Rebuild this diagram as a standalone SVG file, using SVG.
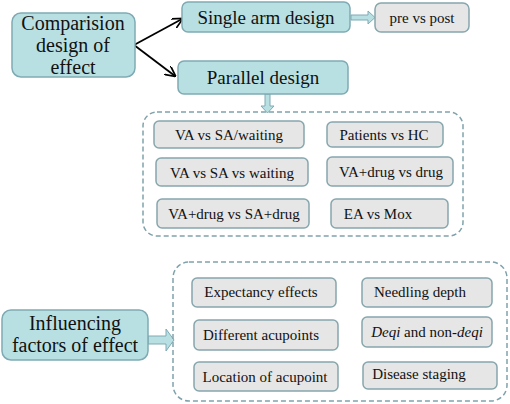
<svg xmlns="http://www.w3.org/2000/svg" width="510" height="404" viewBox="0 0 510 404">
<defs>
<style>
.teal{fill:#b8e0e3;stroke:#7eaab3;stroke-width:1.5}
.gray{fill:#e6e6e6;stroke:#86a7ad;stroke-width:1.5}
.dash{fill:none;stroke:#7fa2aa;stroke-width:1.5;stroke-dasharray:5 3}
.barrow{fill:#b8e0e3;stroke:#7eaab3;stroke-width:1}
.line{stroke:#000;stroke-width:1.8;fill:none}
</style>
<marker id="ah" viewBox="0 0 10 10" refX="9" refY="5" markerWidth="6" markerHeight="6" orient="auto" markerUnits="strokeWidth">
<path d="M0,0 L10,5 L0,10" fill="none" stroke="#000" stroke-width="1.6"/>
</marker>
</defs>
<rect width="510" height="404" fill="#fff"/>
<g id="connectors">
<line class="line" x1="134" y1="45" x2="182" y2="19" marker-end="url(#ah)"/>
<line class="line" x1="134" y1="45" x2="175" y2="76" marker-end="url(#ah)"/>
<path class="barrow" d="M351,15 L368,15 L368,11 L375,17.5 L368,24 L368,20 L351,20 Z"/>
<path class="barrow" d="M265,94 L265,106 L261,106 L267.5,113 L274,106 L270,106 L270,94 Z"/>
<path class="barrow" d="M148,336 L166,336 L166,329 L174,340 L166,351 L166,344 L148,344 Z"/>
</g>
<g id="comparision">
<rect class="teal" x="12" y="13" width="123" height="64" rx="9"/>
<text x="73" y="30" style="font-family:'Liberation Serif',serif;font-size:20px;text-anchor:middle;fill:#111">Comparision</text>
<text x="73" y="52" style="font-family:'Liberation Serif',serif;font-size:20px;text-anchor:middle;fill:#111">design of</text>
<text x="73" y="74" style="font-family:'Liberation Serif',serif;font-size:20px;text-anchor:middle;fill:#111">effect</text>
</g>
<g id="single-arm">
<rect class="teal" x="182" y="2" width="168" height="30" rx="6"/>
<text x="266" y="24" style="font-family:'Liberation Serif',serif;font-size:19px;text-anchor:middle;fill:#111">Single arm design</text>
</g>
<g id="pre-post">
<rect class="gray" x="375" y="3" width="94" height="29" rx="6"/>
<text x="422" y="23" style="font-family:'Liberation Serif',serif;font-size:15px;text-anchor:middle;fill:#111">pre vs post</text>
</g>
<g id="parallel">
<rect class="teal" x="178" y="61" width="170" height="33" rx="6"/>
<text x="263" y="84" style="font-family:'Liberation Serif',serif;font-size:19px;text-anchor:middle;fill:#111">Parallel design</text>
</g>
<g id="parallel-group">
<rect class="dash" x="143" y="112" width="320" height="124" rx="14"/>
</g>
<g id="va-sa-waiting1">
<rect class="gray" x="154" y="121" width="150" height="27" rx="5"/>
<text x="229" y="140" style="font-family:'Liberation Serif',serif;font-size:15px;text-anchor:middle;fill:#111">VA vs SA/waiting</text>
</g>
<g id="patients-hc">
<rect class="gray" x="327" y="122" width="116" height="25" rx="5"/>
<text x="384" y="140" style="font-family:'Liberation Serif',serif;font-size:15px;text-anchor:middle;fill:#111">Patients vs HC</text>
</g>
<g id="va-sa-waiting2">
<rect class="gray" x="156" y="158" width="152" height="28" rx="5"/>
<text x="232" y="178" style="font-family:'Liberation Serif',serif;font-size:15px;text-anchor:middle;fill:#111">VA vs SA vs waiting</text>
</g>
<g id="vadrug-drug">
<rect class="gray" x="327" y="157" width="126" height="29" rx="5"/>
<text x="391" y="177" style="font-family:'Liberation Serif',serif;font-size:15px;text-anchor:middle;fill:#111">VA+drug vs drug</text>
</g>
<g id="vadrug-sadrug">
<rect class="gray" x="157" y="199" width="152" height="29" rx="5"/>
<text x="234" y="219" style="font-family:'Liberation Serif',serif;font-size:15px;text-anchor:middle;fill:#111">VA+drug vs SA+drug</text>
</g>
<g id="ea-mox">
<rect class="gray" x="331" y="199" width="117" height="29" rx="5"/>
<text x="378" y="219" style="font-family:'Liberation Serif',serif;font-size:15px;text-anchor:middle;fill:#111">EA vs Mox</text>
</g>
<g id="influencing">
<rect class="teal" x="2" y="310" width="146" height="50" rx="9"/>
<text x="75" y="330" style="font-family:'Liberation Serif',serif;font-size:20px;text-anchor:middle;fill:#111">Influencing</text>
<text x="75" y="352" style="font-family:'Liberation Serif',serif;font-size:20px;text-anchor:middle;fill:#111">factors of effect</text>
</g>
<g id="influencing-group">
<rect class="dash" x="173" y="262" width="334" height="139" rx="16"/>
</g>
<g id="expectancy">
<rect class="gray" x="192" y="278" width="144" height="29" rx="5"/>
<text x="261" y="297" style="font-family:'Liberation Serif',serif;font-size:15px;text-anchor:middle;fill:#111">Expectancy effects</text>
</g>
<g id="needling">
<rect class="gray" x="362" y="278" width="130" height="29" rx="5"/>
<text x="420" y="297" style="font-family:'Liberation Serif',serif;font-size:15px;text-anchor:middle;fill:#111">Needling depth</text>
</g>
<g id="different">
<rect class="gray" x="194" y="320" width="144" height="30" rx="5"/>
<text x="261" y="340" style="font-family:'Liberation Serif',serif;font-size:15px;text-anchor:middle;fill:#111">Different acupoints</text>
</g>
<g id="deqi">
<rect class="gray" x="362" y="317" width="130" height="30" rx="5"/>
<text x="427" y="337" style="font-family:'Liberation Serif',serif;font-size:15px;text-anchor:middle;fill:#111"><tspan font-style="italic">Deqi</tspan> and non-<tspan font-style="italic">deqi</tspan></text>
</g>
<g id="location">
<rect class="gray" x="194" y="362" width="144" height="29" rx="5"/>
<text x="265" y="382" style="font-family:'Liberation Serif',serif;font-size:15px;text-anchor:middle;fill:#111">Location of acupoint</text>
</g>
<g id="disease">
<rect class="gray" x="363" y="362" width="134" height="27" rx="5"/>
<text x="419" y="379" style="font-family:'Liberation Serif',serif;font-size:15px;text-anchor:middle;fill:#111">Disease staging</text>
</g>
</svg>
